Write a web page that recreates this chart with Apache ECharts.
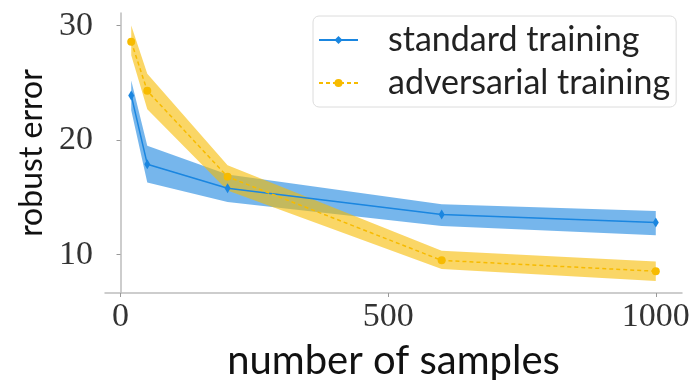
<!DOCTYPE html>
<html>
<head>
<meta charset="utf-8">
<script src="https://cdn.jsdelivr.net/npm/echarts@6/dist/echarts.min.js"></script>
<style>html,body{margin:0;padding:0;background:#fff;}#c{width:694px;height:380px;}</style>
</head>
<body>
<div id="c"></div>
<script>
const samples = [20, 50, 200, 600, 1000];
const stdMean = [23.9, 17.9, 15.8, 13.5, 12.8];
const stdUpper = [25.2, 19.5, 17.0, 14.4, 13.8];
const stdLower = [22.6, 16.3, 14.6, 12.5, 11.7];
const advMean = [28.6, 24.3, 16.8, 9.5, 8.55];
const advUpper = [30.0, 25.8, 17.8, 10.35, 9.4];
const advLower = [27.4, 22.7, 15.6, 8.75, 7.7];
const xTicks = [0, 500, 1000];
const yTicks = [10, 20, 30];

const BLUE = '#1a86e0';
const YEL = '#f7bb00';
const pairs = (ys) => samples.map((x, i) => [x, ys[i]]);
const triples = (hi, lo) => samples.map((x, i) => [x, lo[i], hi[i]]);

const chart = echarts.init(document.getElementById('c'), null, {renderer: 'canvas'});
const serif = '"Liberation Serif", "DejaVu Serif", serif';
const sans = 'Lato, "Open Sans", sans-serif';

function bandSeries(hi, lo, color) {
  return {
    type: 'custom', data: triples(hi, lo), silent: true, clip: true,
    renderItem: function (params, api) {
      if (params.dataIndex !== 0) return null;
      const top = [], bot = [];
      for (let i = 0; i < samples.length; i++) {
        top.push(api.coord([samples[i], hi[i]]));
        bot.push(api.coord([samples[i], lo[i]]));
      }
      const pts = top.concat(bot.reverse());
      return {type: 'polygon', shape: {points: pts},
              style: {fill: color, opacity: 0.6}};
    }
  };
}

chart.setOption({
  animation: false,
  grid: {left: 105, right: 12, top: 13, bottom: 87, outerBoundsMode: 'none', containLabel: false},
  legend: {
    data: ['standard training', 'adversarial training'],
    orient: 'vertical', left: 313, top: 16,
    padding: [4, 6, 4, 5],
    itemWidth: 39, itemHeight: 10, itemGap: 3,
    backgroundColor: '#fff', borderColor: '#dcdcdc', borderWidth: 1, borderRadius: 6,
    textStyle: {fontFamily: sans, fontSize: 34, color: '#222', padding: [0, 0, 0, 25], lineHeight: 40}
  },
  xAxis: {
    type: 'value', min: -29, max: 1049,
    name: 'number of samples', nameLocation: 'middle', nameGap: 48,
    nameTextStyle: {fontFamily: sans, fontSize: 40, color: '#111'},
    axisLine: {show: true, lineStyle: {color: '#bdbdbd', width: 1.5}},
    axisTick: {show: true, length: 4, lineStyle: {color: '#999'}, customValues: xTicks},
    axisLabel: {fontFamily: serif, fontSize: 34, color: '#333', margin: 7, customValues: xTicks,
                formatter: (v) => String(v)},
    splitLine: {show: false}
  },
  yAxis: {
    type: 'value', min: 6.65, max: 31.1,
    name: 'robust error', nameLocation: 'middle', nameGap: 54, nameRotate: 90,
    nameTextStyle: {fontFamily: sans, fontSize: 32, color: '#111'},
    axisLine: {show: true, lineStyle: {color: '#bdbdbd', width: 1.5}},
    axisTick: {show: true, length: 4, lineStyle: {color: '#999'}, customValues: yTicks},
    axisLabel: {fontFamily: serif, fontSize: 34, color: '#333', margin: 12, customValues: yTicks,
                formatter: (v) => String(v)},
    splitLine: {show: false}
  },
  series: [
    bandSeries(stdUpper, stdLower, BLUE),
    {name: 'standard training', type: 'line', data: pairs(stdMean),
     symbol: 'diamond', symbolSize: [6, 10], itemStyle: {color: BLUE},
     lineStyle: {color: BLUE, width: 1.5}},
    bandSeries(advUpper, advLower, YEL),
    {name: 'adversarial training', type: 'line', data: pairs(advMean),
     symbol: 'circle', symbolSize: 8, itemStyle: {color: YEL},
     lineStyle: {color: YEL, width: 1.5, type: [4, 3]}}
  ]
});
</script>
</body>
</html>
